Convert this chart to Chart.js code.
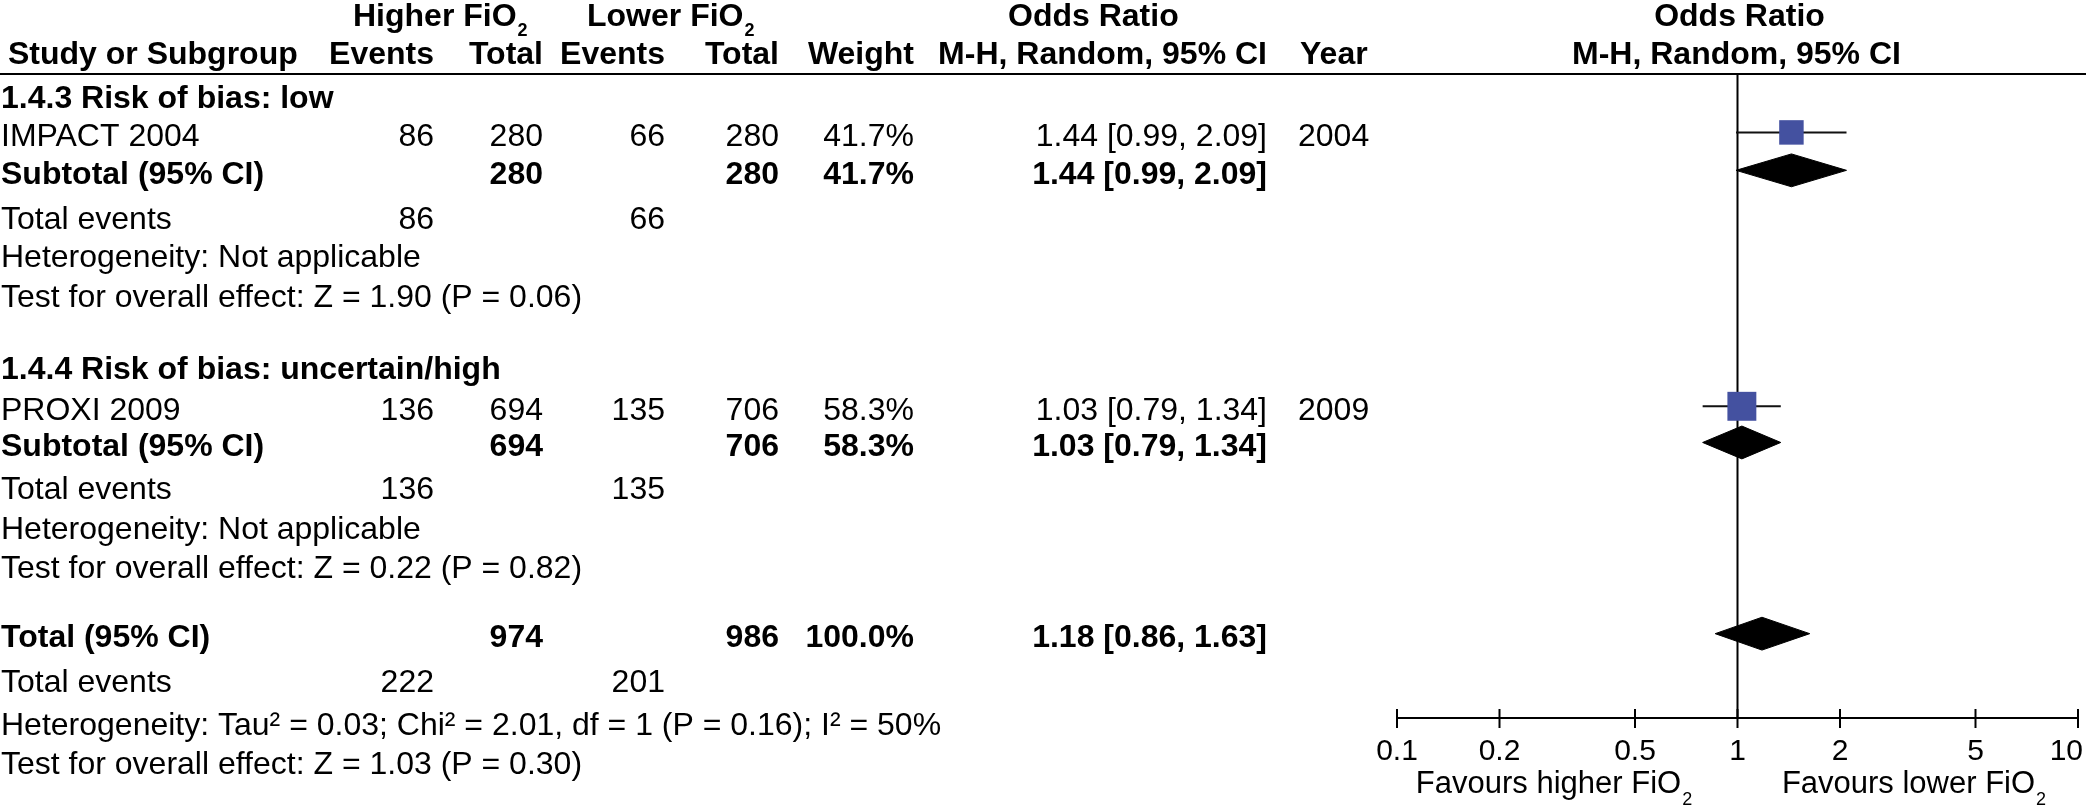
<!DOCTYPE html>
<html><head><meta charset="utf-8">
<script src="https://cdn.jsdelivr.net/npm/chart.js@4.4.1/dist/chart.umd.min.js"></script>
<style>html,body{margin:0;padding:0;background:#fff;} canvas{display:block;}</style>
</head><body>
<canvas id="c" width="2086" height="806"></canvas>
<script>
// ---------------- data ----------------
const subgroups = ['1.4.3 Risk of bias: low', '1.4.4 Risk of bias: uncertain/high'];
const studies = ['IMPACT 2004', 'PROXI 2009'];
const studyGroup = [0, 1];
const studyYears = [2004, 2009];
const higherEvents = [86, 136];
const higherTotal = [280, 694];
const lowerEvents = [66, 135];
const lowerTotal = [280, 706];
const studyWeight = [41.7, 58.3];
const studyOR = [1.44, 1.03];
const studyLow = [0.99, 0.79];
const studyHigh = [2.09, 1.34];
const subOR = [1.44, 1.03];
const subLow = [0.99, 0.79];
const subHigh = [2.09, 1.34];
const subHeterogeneity = ['Not applicable', 'Not applicable'];
const subZ = [1.90, 0.22];
const subP = [0.06, 0.82];
const totalOR = [1.18];
const totalLow = [0.86];
const totalHigh = [1.63];
const totalZ = [1.03];
const totalP = [0.30];
const totalHeterogeneity = ['Tau\u00B2 = 0.03; Chi\u00B2 = 2.01, df = 1 (P = 0.16); I\u00B2 = 50%'];
const tickValues = [0.1, 0.2, 0.5, 1, 2, 5, 10];
const tickLabels = ['0.1', '0.2', '0.5', '1', '2', '5', '10'];
const leftFavour = ['Favours higher FiO', '2'];
const rightFavour = ['Favours lower FiO', '2'];

// ---------------- layout (not data) ----------------
const ROW_POS = [-0.05, 0.93, 1.90, 3.05, 4.02, 5.04, 6.90, 7.935, 8.86, 9.965, 10.99, 11.97, 13.75, 14.91, 16.0, 17.0];
const MARK_SHIFT = -0.05;
const DIAMOND_H = 0.42;
const FONT = '"Liberation Sans", Arial, Helvetica, sans-serif';
const COL = {
  name: {x: 1, a: 'left'}, he: {x: 434, a: 'right'}, ht: {x: 543, a: 'right'},
  le: {x: 665, a: 'right'}, lt: {x: 779, a: 'right'}, w: {x: 914, a: 'right'},
  ci: {x: 1267, a: 'right'}, yr: {x: 1298, a: 'left'}
};
const BLUE = '#4451a0';

const sum = a => a.reduce((s, v) => s + v, 0);
const fmtCI = (o, l, h) => `${o.toFixed(2)} [${l.toFixed(2)}, ${h.toFixed(2)}]`;
const fmtTest = (z, p) => `Test for overall effect: Z = ${z.toFixed(2)} (P = ${p.toFixed(2)})`;

// build table lines
const lines = [];
const studyLine = [], subLine = [];
subgroups.forEach((sg, g) => {
  lines.push({bold: true, cells: {name: sg}});
  const idx = studies.map((s, i) => i).filter(i => studyGroup[i] === g);
  idx.forEach(i => {
    studyLine[i] = lines.length;
    lines.push({bold: false, cells: {
      name: studies[i], he: String(higherEvents[i]), ht: String(higherTotal[i]),
      le: String(lowerEvents[i]), lt: String(lowerTotal[i]), w: studyWeight[i].toFixed(1) + '%',
      ci: fmtCI(studyOR[i], studyLow[i], studyHigh[i]), yr: String(studyYears[i])
    }});
  });
  subLine[g] = lines.length;
  lines.push({bold: true, cells: {
    name: 'Subtotal (95% CI)', ht: String(sum(idx.map(i => higherTotal[i]))),
    lt: String(sum(idx.map(i => lowerTotal[i]))), w: sum(idx.map(i => studyWeight[i])).toFixed(1) + '%',
    ci: fmtCI(subOR[g], subLow[g], subHigh[g])
  }});
  lines.push({bold: false, cells: {name: 'Total events', he: String(sum(idx.map(i => higherEvents[i]))), le: String(sum(idx.map(i => lowerEvents[i])))}});
  lines.push({bold: false, cells: {name: 'Heterogeneity: ' + subHeterogeneity[g]}});
  lines.push({bold: false, cells: {name: fmtTest(subZ[g], subP[g])}});
});
const totalLine = lines.length;
lines.push({bold: true, cells: {
  name: 'Total (95% CI)', ht: String(sum(higherTotal)), lt: String(sum(lowerTotal)),
  w: sum(studyWeight).toFixed(1) + '%', ci: fmtCI(totalOR[0], totalLow[0], totalHigh[0])
}});
lines.push({bold: false, cells: {name: 'Total events', he: String(sum(higherEvents)), le: String(sum(lowerEvents))}});
lines.push({bold: false, cells: {name: 'Heterogeneity: ' + totalHeterogeneity[0]}});
lines.push({bold: false, cells: {name: fmtTest(totalZ[0], totalP[0])}});

// ---------------- datasets ----------------
const datasets = [];
datasets.push({
  label: 'studies',
  data: studies.map((s, i) => ({x: studyOR[i], y: ROW_POS[studyLine[i]] + MARK_SHIFT})),
  pointStyle: 'rect',
  pointRadius: studyWeight.map(w => 2.68 * Math.sqrt(w)),
  pointHoverRadius: studyWeight.map(w => 2.68 * Math.sqrt(w)),
  backgroundColor: BLUE, borderWidth: 0, showLine: false, order: 0
});
studies.forEach((s, i) => {
  const y = ROW_POS[studyLine[i]] + MARK_SHIFT;
  datasets.push({
    label: 'ci ' + s,
    data: [{x: studyLow[i], y}, {x: studyHigh[i], y}],
    showLine: true, borderColor: '#111', borderWidth: 2, pointRadius: 0, order: 2
  });
});
const diamond = (o, l, h, y) => [
  {x: l, y}, {x: o, y: y - DIAMOND_H}, {x: h, y}, {x: o, y: y + DIAMOND_H}, {x: l, y}
];
const pooled = subgroups.map((g, k) => ({o: subOR[k], l: subLow[k], h: subHigh[k], line: subLine[k]}))
  .concat([{o: totalOR[0], l: totalLow[0], h: totalHigh[0], line: totalLine}]);
pooled.forEach((p, k) => {
  datasets.push({
    label: 'pooled ' + k,
    data: diamond(p.o, p.l, p.h, ROW_POS[p.line] + MARK_SHIFT),
    showLine: true, fill: 'shape', tension: 0,
    backgroundColor: '#000', borderColor: '#000', borderWidth: 1, pointRadius: 0, order: 1
  });
});

// ---------------- drawing helpers ----------------
function drawWithSub(ctx, main, sub, x, y, align, font, subFont, dy) {
  ctx.font = font;
  const w1 = ctx.measureText(main).width;
  ctx.font = subFont;
  const w2 = ctx.measureText(sub).width;
  let start = x;
  if (align === 'center') start = x - (w1 + w2) / 2;
  if (align === 'right') start = x - w1 - w2;
  ctx.textAlign = 'left';
  ctx.font = font;
  ctx.fillText(main, start, y);
  ctx.font = subFont;
  ctx.fillText(sub, start + w1 + 1, y + dy);
}

const forestPlugin = {
  id: 'forest',
  beforeDatasetsDraw(chart) {
    const {ctx, chartArea, scales: {x}} = chart;
    ctx.save();
    ctx.strokeStyle = '#000';
    ctx.lineWidth = 2;
    ctx.beginPath();
    ctx.moveTo(0, chartArea.top);
    ctx.lineTo(chart.width, chartArea.top);
    ctx.stroke();
    const p1 = x.getPixelForValue(1);
    ctx.beginPath();
    ctx.moveTo(p1, chartArea.top);
    ctx.lineTo(p1, chartArea.bottom);
    ctx.stroke();
    ctx.restore();
  },
  afterDraw(chart) {
    const {ctx, chartArea, scales: {x, y}} = chart;
    ctx.save();
    ctx.fillStyle = '#000';
    ctx.strokeStyle = '#000';
    ctx.textBaseline = 'alphabetic';
    // axis ticks and labels
    ctx.lineWidth = 2;
    ctx.font = '30px ' + FONT;
    x.ticks.forEach((t, i) => {
      const px = x.getPixelForValue(t.value);
      ctx.beginPath();
      ctx.moveTo(px, chartArea.bottom - 9);
      ctx.lineTo(px, chartArea.bottom + 10);
      ctx.stroke();
      const lab = tickLabels[i];
      const w = ctx.measureText(lab).width;
      let cx = px;
      if (cx + w / 2 > chart.width - 3) cx = chart.width - 3 - w / 2;
      ctx.textAlign = 'center';
      ctx.fillText(lab, cx, chartArea.bottom + 42);
    });
    const p1 = x.getPixelForValue(1);
    drawWithSub(ctx, leftFavour[0], leftFavour[1], p1 - 184, chartArea.bottom + 75, 'center', '31px ' + FONT, '18px ' + FONT, 12);
    drawWithSub(ctx, rightFavour[0], rightFavour[1], p1 + 176, chartArea.bottom + 75, 'center', '31px ' + FONT, '18px ' + FONT, 12);

    // headers
    const B = 'bold 32px ' + FONT;
    const BS = 'bold 18px ' + FONT;
    drawWithSub(ctx, 'Higher FiO', '2', 353, 26, 'left', B, BS, 10);
    drawWithSub(ctx, 'Lower FiO', '2', 587, 26, 'left', B, BS, 10);
    ctx.font = B;
    ctx.textAlign = 'left';
    ctx.fillText('Odds Ratio', 1008, 26);
    ctx.textAlign = 'center';
    ctx.fillText('Odds Ratio', p1 + 2, 26);
    ctx.fillText('M-H, Random, 95% CI', p1 - 1, 64);
    const hdr = [['Study or Subgroup', 8, 'left'], ['Events', COL.he.x, 'right'], ['Total', COL.ht.x, 'right'],
      ['Events', COL.le.x, 'right'], ['Total', COL.lt.x, 'right'], ['Weight', COL.w.x, 'right'],
      ['M-H, Random, 95% CI', COL.ci.x, 'right'], ['Year', 1300, 'left']];
    hdr.forEach(([t, hx, a]) => { ctx.textAlign = a; ctx.fillText(t, hx, 64); });

    // table body
    lines.forEach((ln, k) => {
      const py = y.getPixelForValue(ROW_POS[k]) + 11.5;
      ctx.font = (ln.bold ? 'bold ' : '') + '32px ' + FONT;
      Object.keys(ln.cells).forEach(c => {
        ctx.textAlign = COL[c].a;
        ctx.fillText(ln.cells[c], COL[c].x, py);
      });
    });
    ctx.restore();
  }
};

new Chart(document.getElementById('c'), {
  type: 'scatter',
  data: {datasets},
  options: {
    responsive: false,
    animation: false,
    devicePixelRatio: 1,
    layout: {autoPadding: false, padding: {left: 1397, right: 8, top: 74, bottom: 0}},
    plugins: {legend: {display: false}, tooltip: {enabled: false}},
    events: [],
    scales: {
      x: {
        type: 'logarithmic', min: 0.1, max: 10, position: 'bottom',
        grid: {display: false, drawTicks: false},
        border: {display: true, color: '#000', width: 2},
        ticks: {display: false},
        afterBuildTicks: s => { s.ticks = tickValues.map(v => ({value: v})); },
        afterFit: s => { s.height = 88; }
      },
      y: {
        type: 'linear', reverse: true, min: -0.614, max: 15.857, display: false
      }
    }
  },
  plugins: [forestPlugin]
});
</script>
</body></html>
